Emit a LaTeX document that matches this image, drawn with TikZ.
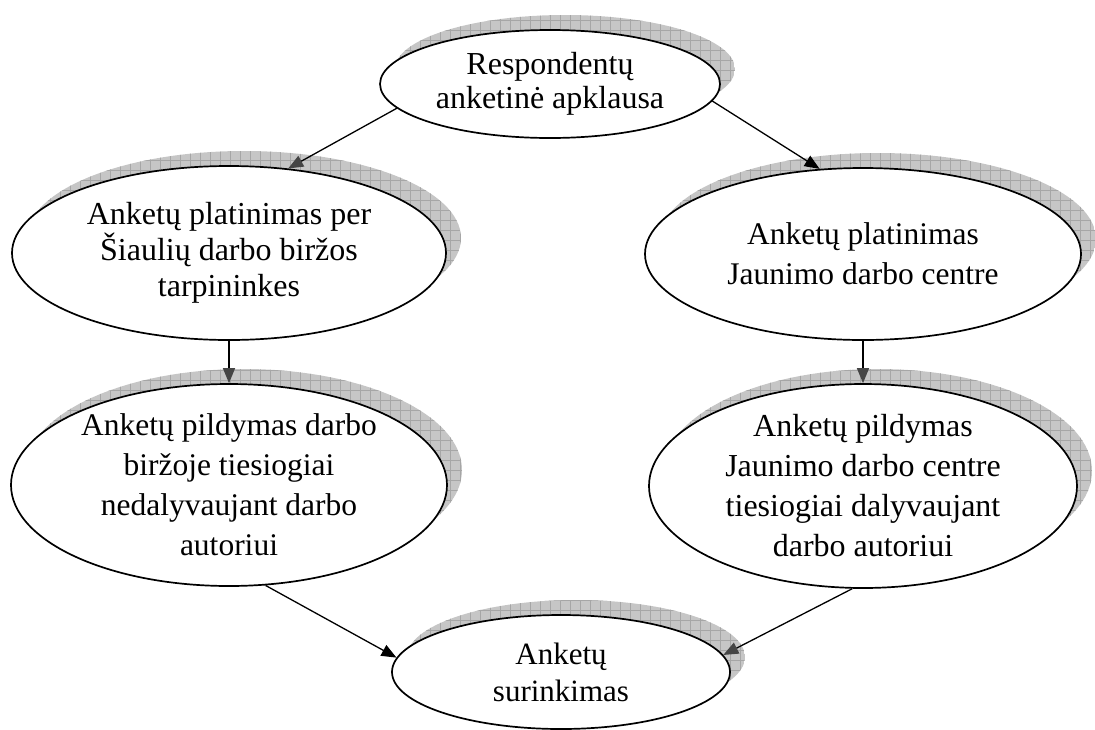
\documentclass[tikz,border=0pt]{standalone}
\usepackage{fontspec}
\setmainfont{Liberation Serif}
\usetikzlibrary{shapes.geometric,arrows.meta}

\definecolor{shadowfill}{HTML}{C6C6C6}
\definecolor{shadowgrid}{HTML}{A6A6A6}
\definecolor{tipgray}{HTML}{454545}

% Hatched drop shadow behind an ellipse: centre (#1,#2), radii #3 and #4
\newcommand\bubbleshadow[4]{%
  \begin{scope}
    \clip (#1+15,#2-15) ellipse [x radius=#3pt, y radius=#4pt];
    \fill[shadowfill] (#1+15-#3,#2-15-#4) rectangle (#1+15+#3,#2-15+#4);
    \draw[shadowgrid, line width=0.6pt, step=10pt]
      (#1+5-#3,#2-25-#4) grid (#1+25+#3,#2-5+#4);
  \end{scope}}

\tikzset{
  bubble/.style={ellipse, draw=black, line width=1.7pt, fill=white,
    inner sep=0pt, align=center},
  link/.style={line width=1.3pt, -{Triangle[length=15pt,width=12pt]}},
  linkgray/.style={line width=1.3pt, -{Triangle[length=15pt,width=12pt,color=tipgray]}}
}

\begin{document}
\begin{tikzpicture}[x=1pt,y=-1pt]
\useasboundingbox (0,0) rectangle (1095,729);

\bubbleshadow{550}{84}{170}{54}
\node[bubble, minimum width=340pt, minimum height=108pt,
  font=\fontsize{32}{34}\selectfont] (survey) at (550,84)
  {Respondentų\\anketinė apklausa};

\bubbleshadow{229}{253}{217}{87}
\node[bubble, minimum width=434pt, minimum height=174pt, inner ysep=-6pt,
  font=\fontsize{32}{36}\selectfont] (distrA) at (229,253)
  {Anketų platinimas per\\Šiaulių darbo biržos\\tarpininkes};

\bubbleshadow{863}{254}{218}{86}
\node[bubble, minimum width=436pt, minimum height=172pt,
  font=\fontsize{31.5}{40}\selectfont] (distrB) at (863,254)
  {Anketų platinimas\\Jaunimo darbo centre};

\bubbleshadow{229}{485}{218}{101}
\node[bubble, minimum width=436pt, minimum height=202pt, inner ysep=-16pt,
  font=\fontsize{31.5}{40}\selectfont] (fillA) at (229,485)
  {Anketų pildymas darbo\\biržoje tiesiogiai\\nedalyvaujant darbo\\autoriui};

\bubbleshadow{863}{486}{214}{102}
\node[bubble, minimum width=428pt, minimum height=204pt, inner ysep=-16pt,
  font=\fontsize{32}{40}\selectfont] (fillB) at (863,486)
  {Anketų pildymas\\Jaunimo darbo centre\\tiesiogiai dalyvaujant\\darbo autoriui};

\bubbleshadow{561}{672}{169}{57}
\node[bubble, minimum width=338pt, minimum height=114pt,
  font=\fontsize{31}{37}\selectfont] (collect) at (561,672)
  {Anketų\\surinkimas};

% Connectors
\draw[linkgray] (survey.189) -- (distrA.55);
\draw[link] (survey.354) -- (distrB.117);
\draw[linkgray] (distrA.south) -- (fillA.north);
\draw[linkgray] (distrB.south) -- (fillB.north);
\draw[link] (fillA.290) -- (collect.175);
\draw[linkgray] (fillB.264) -- (collect.6);
\end{tikzpicture}
\end{document}
